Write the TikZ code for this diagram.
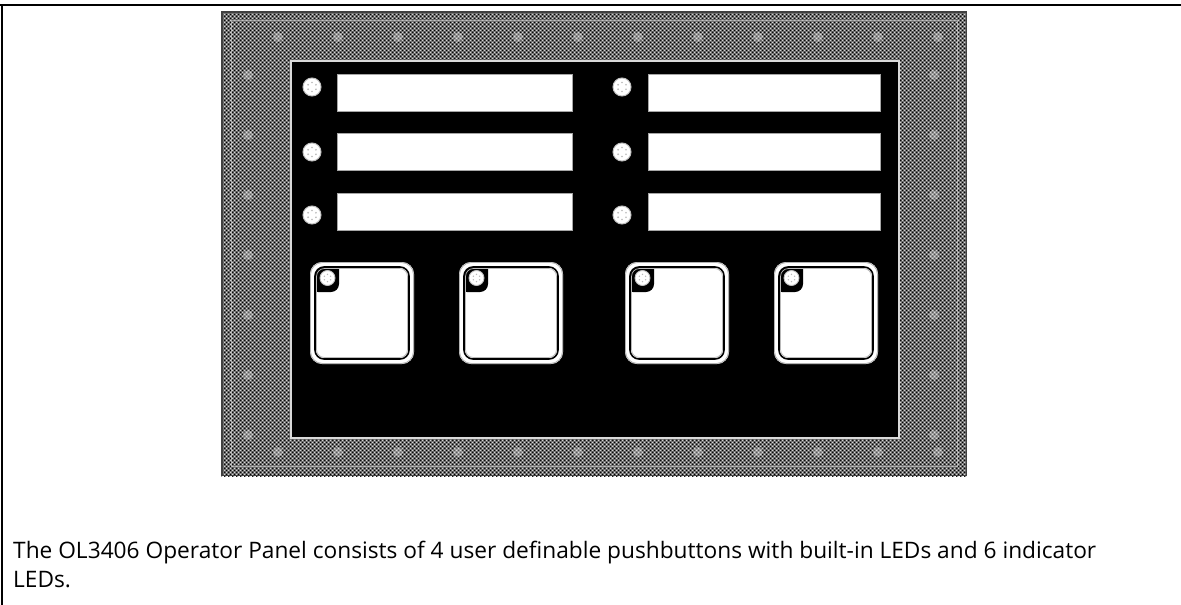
\documentclass[tikz,border=0pt]{standalone}
\usepackage{fontspec}
\setmainfont{Open Sans}
\usetikzlibrary{patterns}
\pgfdeclarepatternformonly{bezeldark}{\pgfpointorigin}{\pgfpoint{4pt}{4pt}}{\pgfpoint{4pt}{4pt}}{%
  \pgfpathcircle{\pgfpoint{1pt}{1pt}}{1.1pt}%
  \pgfpathcircle{\pgfpoint{3pt}{3pt}}{1.1pt}%
  \pgfusepath{fill}}
\pgfdeclarepatternformonly{bezellight}{\pgfpointorigin}{\pgfpoint{4pt}{4pt}}{\pgfpoint{4pt}{4pt}}{%
  \pgfpathcircle{\pgfpoint{1pt}{3pt}}{0.85pt}%
  \pgfpathcircle{\pgfpoint{3pt}{1pt}}{0.85pt}%
  \pgfusepath{fill}}
\begin{document}
\begin{tikzpicture}[x=1pt,y=-1pt,
  frameline/.style={line width=2.5pt, black},
  slot/.style={rectangle, fill=white, draw=gray!70, line width=0.8pt, inner sep=0pt, minimum height=37pt},
  ledlamp/.style={circle, fill=white, draw=gray!50, line width=1pt, inner sep=0pt, minimum size=18pt},
  btnled/.style={circle, fill=white, draw=gray!50, line width=0.9pt, inner sep=0pt, minimum size=15pt},
  spot/.style={circle, fill=gray!15, opacity=0.35, inner sep=0pt, minimum size=10pt},
  captext/.style={anchor=base west, inner sep=0pt, font=\fontsize{22.7pt}{29pt}\selectfont}]
\useasboundingbox (0,0) rectangle (1181,605);
% page frame
\draw[frameline] (0,5) -- (1181,5);
\draw[frameline] (2,4) -- (2,605);
% panel bezel
\fill[black!55] (221,11) rectangle (967,476);
\fill[pattern=bezeldark, pattern color=black] (221,11) rectangle (967,476);
\fill[pattern=bezellight, pattern color=gray!15] (221,11) rectangle (967,476);
\foreach \x in {278,338,398,458,518,578,638,698,758,818,878,938}{
  \node[spot] at (\x,37) {};
  \node[spot] at (\x,452) {};
}
\foreach \y in {75,135,195,255,315,375,435}{
  \node[spot] at (248,\y) {};
  \node[spot] at (934,\y) {};
}
\draw[black!75, line width=1.5pt] (221.75,11.75) rectangle (966.25,475.25);
\draw[gray!45, line width=0.8pt, opacity=0.7] (231,20) rectangle (957,466);
% inner black face
\fill[black] (292,62) rectangle (898,437);
\draw[gray!30, line width=2pt] (291,61) rectangle (899,438);
% label slots and indicator LEDs
\foreach \r/\y in {1/92.5,2/152,3/211.5}{
  \node[slot, minimum width=235pt] (slotL\r) at (455,\y) {};
  \node[slot, minimum width=232pt] (slotR\r) at (764,\y) {};
}
\foreach \r/\y in {1/87,2/152,3/215}{
  \node[ledlamp] (ledL\r) at (312,\y) {};
  \node[ledlamp] (ledR\r) at (622,\y) {};
  \foreach \a in {0,60,...,300}{
    \fill[gray!55] ([shift={(\a+30:4.5pt)}]ledL\r.center) circle (0.9pt);
    \fill[gray!55] ([shift={(\a+30:4.5pt)}]ledR\r.center) circle (0.9pt);
  }
}
% pushbuttons
\foreach \i/\xl in {1/310,2/459,3/625,4/774}{
  \pgfmathsetmacro{\xr}{\xl+104}
  \fill[white, rounded corners=12pt] (\xl,262) rectangle (\xr,364);
  \draw[gray!60, line width=0.8pt, rounded corners=12pt] (\xl+0.5,262.5) rectangle (\xr-0.5,363.5);
  \begin{scope}
    \clip[rounded corners=9pt] (\xl+5,267) rectangle (\xr-5,359);
    \fill[black, rounded corners=8pt] (\xl,260) rectangle (\xl+29,292);
  \end{scope}
  \draw[black, line width=1.6pt, rounded corners=9pt] (\xl+5,267) rectangle (\xr-5,359);
  \draw[gray!55, line width=0.7pt, rounded corners=8pt] (\xl+6.5,268.5) rectangle (\xr-6.5,357.5);
  \node[btnled] (bled\i) at (\xl+17.5,278) {};
  \foreach \a in {0,60,...,300}{
    \fill[gray!55] ([shift={(\a+30:3.6pt)}]bled\i.center) circle (0.8pt);
  }
}
% caption
\node[captext] (caption) at (13,558)
  {The OL3406 Operator Panel consists of 4 user definable pushbuttons with built-in LEDs and 6 indicator};
\node[captext] (caption2) at (13,587) {LEDs.};
\end{tikzpicture}
\end{document}
